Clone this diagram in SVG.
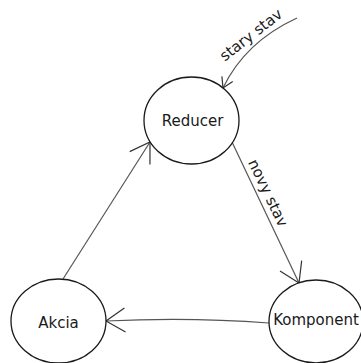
<svg xmlns="http://www.w3.org/2000/svg" width="361" height="363" viewBox="0 0 361 363">
<style>
.node ellipse{fill:#fff;stroke:#1a1a1a;stroke-width:1.3}
.node text{font-family:"DejaVu Sans",Verdana,sans-serif;font-size:15px;fill:#1a1a1a;text-anchor:middle}
.edge{fill:none;stroke:#555;stroke-width:1.2}
.lbl{font-family:"DejaVu Sans",Verdana,sans-serif;font-size:15px;fill:#1a1a1a;text-anchor:middle;dominant-baseline:central}
</style>
<defs>
<marker id="big" markerUnits="userSpaceOnUse" markerWidth="30" markerHeight="30" viewBox="-22 -15 24 30" refX="0" refY="0" orient="auto">
<path d="M-19,-12 L0,0 L-19,12" fill="none" stroke="#333" stroke-width="1.2"/>
</marker>
<marker id="small" markerUnits="userSpaceOnUse" markerWidth="16" markerHeight="16" viewBox="-12 -8 14 16" refX="0" refY="0" orient="auto">
<path d="M-10,-6 L0,0 L-10,6" fill="none" stroke="#333" stroke-width="1.2"/>
</marker>
</defs>
<g id="connectors">
<path class="edge" d="M297,18 Q245,42 223,88" marker-end="url(#small)"/>
<path class="edge" d="M232,142 L299,283" marker-end="url(#big)"/>
<path class="edge" d="M63,279 L150,142" marker-end="url(#big)"/>
<path class="edge" d="M269,323 Q190,317 106,321" marker-end="url(#big)"/>
<text class="lbl" transform="translate(251,35) rotate(-38)">stary stav</text>
<text class="lbl" transform="translate(268,193) rotate(64.6)">novy stav</text>
</g>
<g id="reducer" class="node">
<ellipse cx="191.5" cy="120.5" rx="47.5" ry="43.5"/>
<text x="192.5" y="126">Reducer</text>
</g>
<g id="akcia" class="node">
<ellipse cx="58.5" cy="321" rx="47.5" ry="42"/>
<text x="58.5" y="328">Akcia</text>
</g>
<g id="komponent" class="node">
<ellipse cx="316" cy="321.5" rx="47" ry="41.5"/>
<text x="316" y="325">Komponent</text>
</g>
</svg>
